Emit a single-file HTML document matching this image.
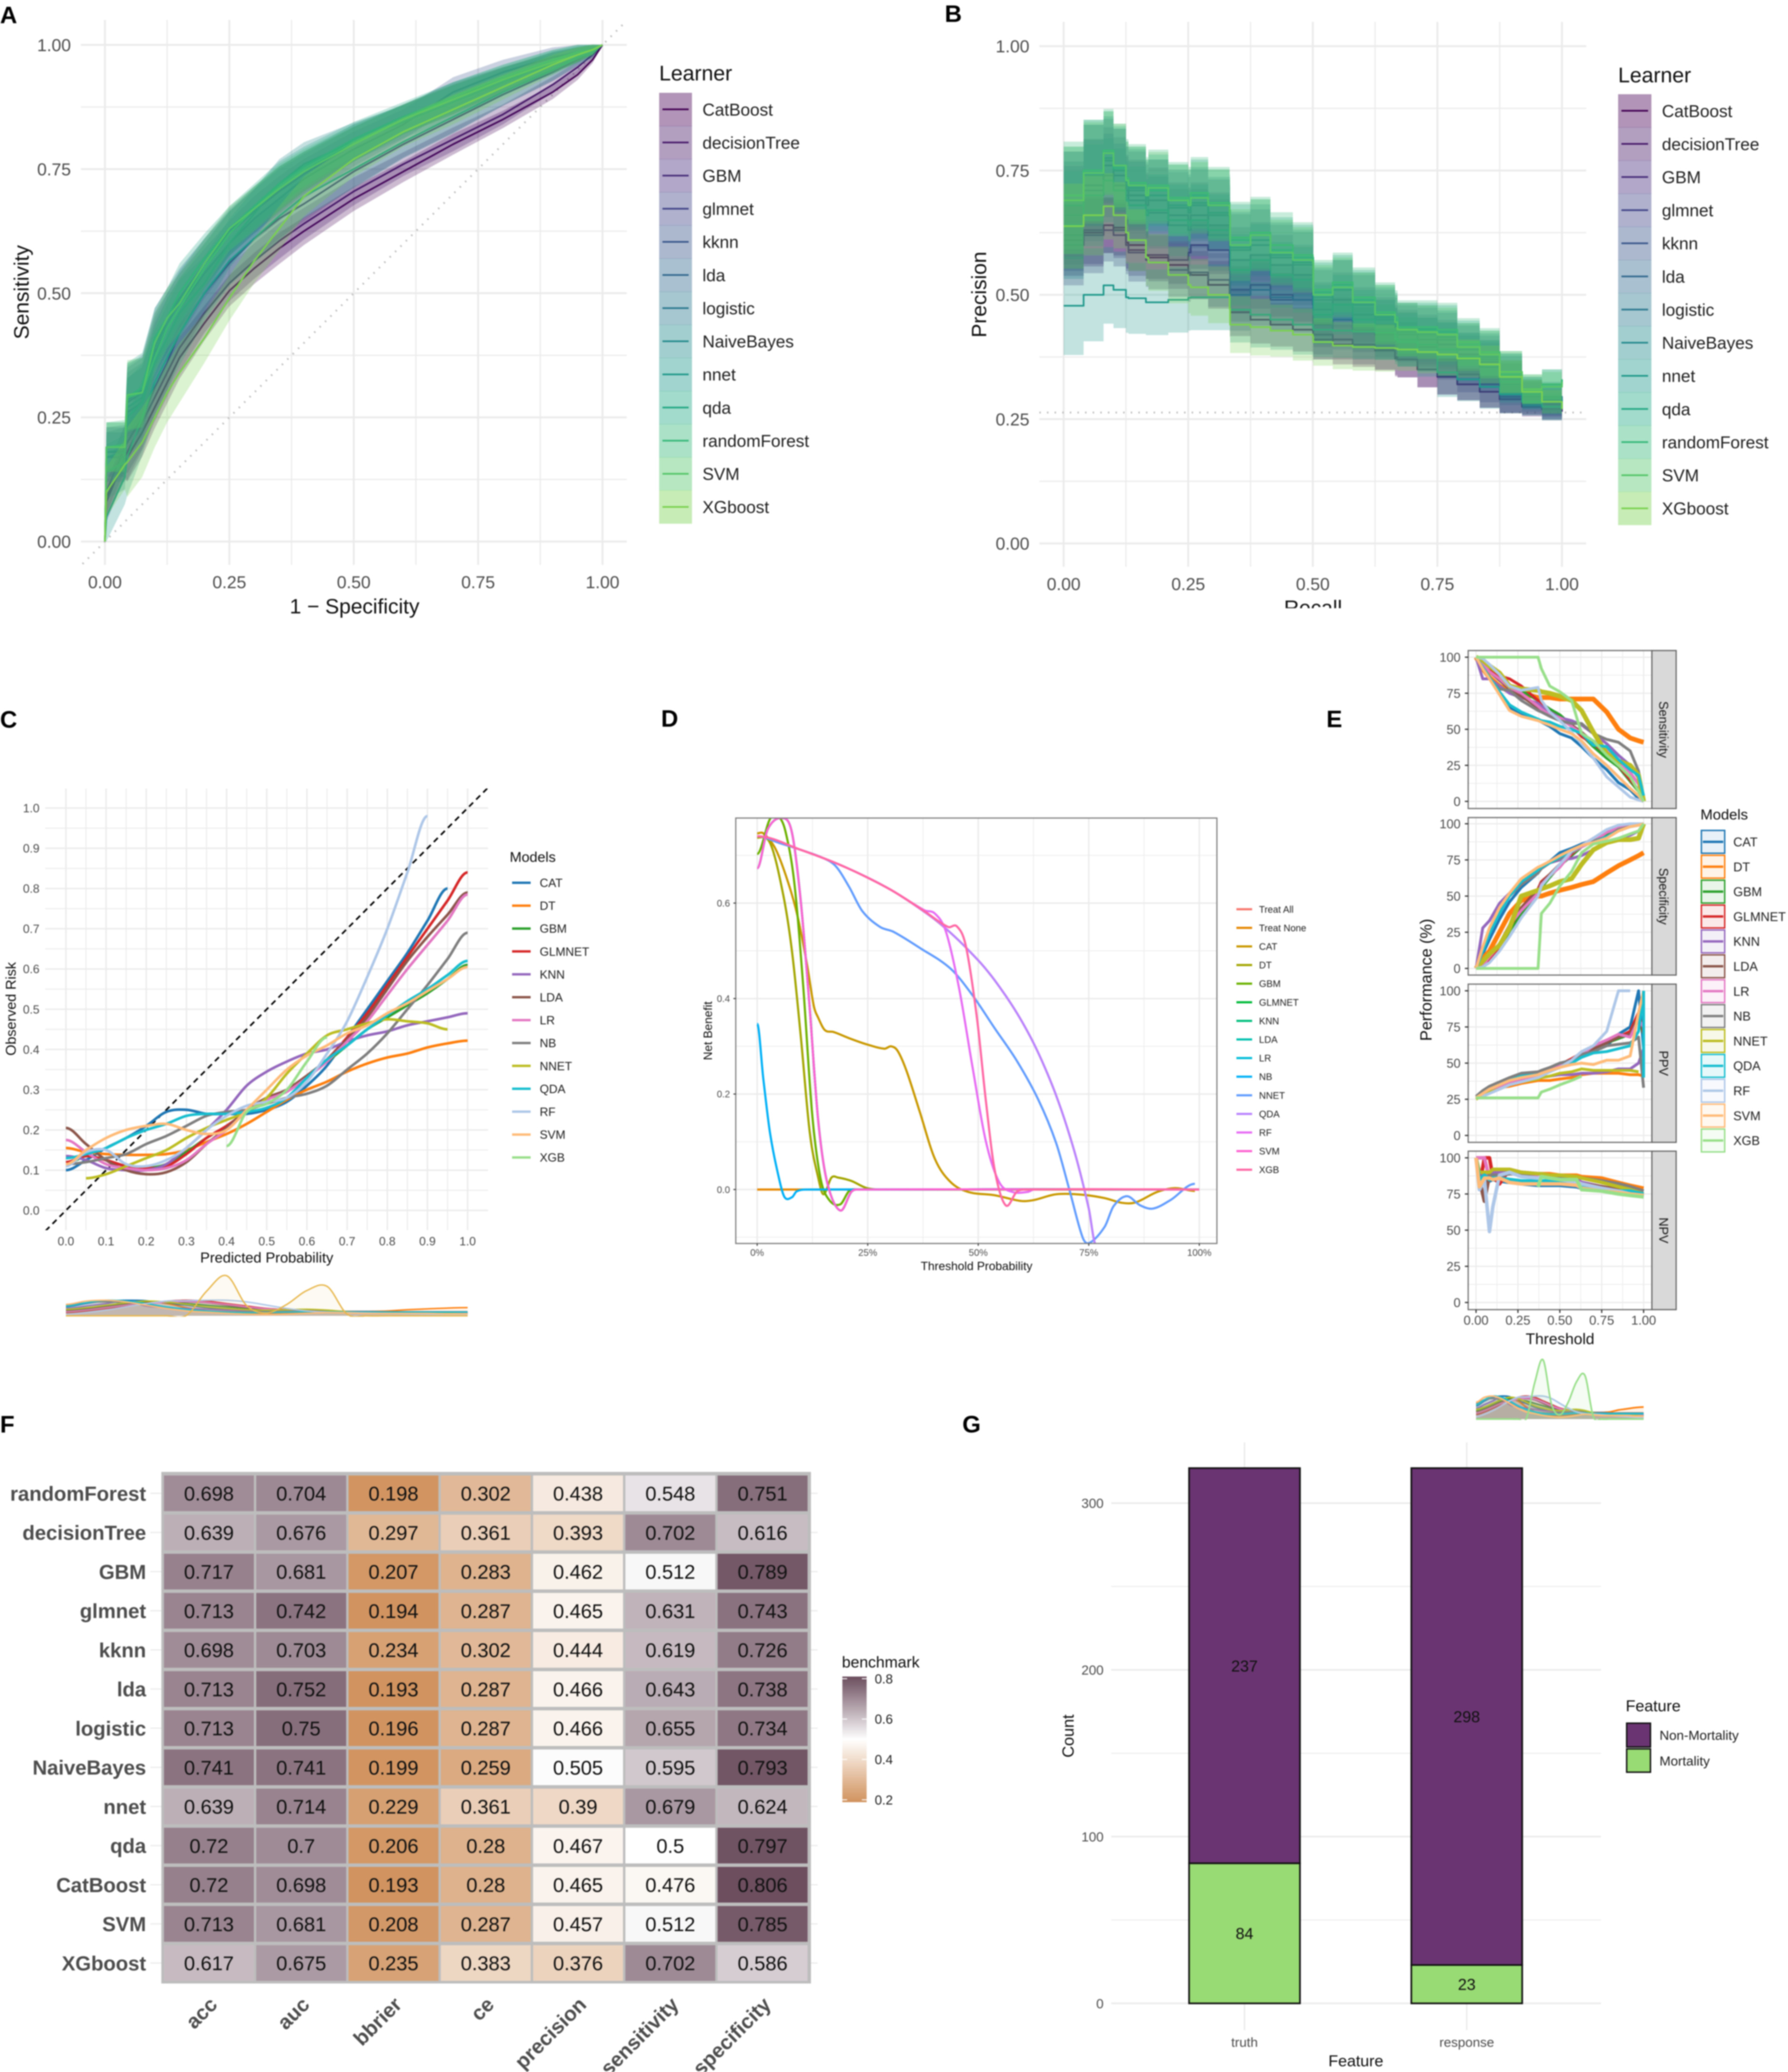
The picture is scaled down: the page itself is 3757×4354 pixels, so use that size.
<!DOCTYPE html>
<html lang="en">
<head>
<meta charset="utf-8">
<title>Model performance figure</title>
<style>
html,body{margin:0;padding:0;background:#fff;}
body{width:3757px;height:4354px;overflow:hidden;}
svg{display:block;font-family:"Liberation Sans",sans-serif;filter:blur(1.2px);}
</style>
</head>
<body>
<svg id="figure" xmlns="http://www.w3.org/2000/svg" width="3757" height="4354" viewBox="0 0 3757 4354">
<rect x="0" y="0" width="3757" height="4354" fill="#fff"/>
</svg>
<script>
/* ---------- shared categories ---------- */
const learners=["CatBoost","decisionTree","GBM","glmnet","kknn","lda","logistic","NaiveBayes","nnet","qda","randomForest","SVM","XGboost"];
const learnerColors=["#440154","#471a6a","#472d7b","#414487","#3a568b","#31688e","#2a788e","#248a8d","#1f988b","#22a884","#35b779","#54c568","#7ad151"];
const modelNames=["CAT","DT","GBM","GLMNET","KNN","LDA","LR","NB","NNET","QDA","RF","SVM","XGB"];
const modelColors=["#1f77b4","#ff7f0e","#2ca02c","#d62728","#9467bd","#8c564b","#e377c2","#7f7f7f","#bcbd22","#17becf","#aec7e8","#ffbb78","#98df8a"];

/* ---------- panel A: ROC ---------- */
const rocFpr=[0,.003,.04,.045,.075,.1,.125,.15,.2,.25,.3,.35,.4,.5,.6,.7,.8,.9,.95,.98,1];
const rocHalfBand=[0,.05,.05,.07,.07,.06,.06,.06,.05,.045,.045,.045,.04,.035,.03,.03,.025,.02,.015,.01,0];
const rocBandScale=[.7,.8,.9,1,1,1,1,1.1,1.1,1,1,1,1];
const rocValues=[
[0,.09,.16,.17,.22,.27,.32,.37,.44,.505,.55,.59,.625,.69,.745,.80,.85,.905,.94,.97,1],
[0,.08,.17,.18,.24,.29,.34,.39,.46,.52,.565,.605,.64,.705,.76,.81,.86,.92,.955,.98,1],
[0,.10,.19,.20,.25,.31,.36,.42,.50,.56,.61,.65,.68,.745,.80,.85,.90,.945,.97,.985,1],
[0,.18,.18,.28,.30,.40,.44,.48,.55,.62,.665,.705,.74,.80,.85,.89,.93,.965,.98,.99,1],
[0,.17,.17,.26,.28,.38,.43,.47,.54,.60,.65,.69,.73,.79,.84,.905,.945,.975,.985,.99,1],
[0,.18,.185,.285,.305,.41,.45,.49,.56,.625,.67,.71,.745,.805,.85,.895,.93,.965,.98,.99,1],
[0,.17,.18,.27,.29,.39,.44,.485,.56,.62,.665,.71,.745,.80,.85,.89,.93,.96,.98,.99,1],
[0,.14,.16,.25,.28,.36,.41,.46,.52,.60,.66,.72,.76,.805,.845,.885,.925,.965,.98,.99,1],
[0,.05,.13,.17,.25,.32,.37,.42,.50,.565,.61,.655,.695,.75,.805,.855,.905,.95,.975,.985,1],
[0,.19,.19,.29,.31,.41,.45,.50,.57,.63,.675,.72,.755,.81,.855,.895,.935,.97,.985,.99,1],
[0,.19,.195,.29,.30,.37,.43,.47,.55,.62,.67,.715,.75,.805,.85,.895,.935,.97,.985,.99,1],
[0,.19,.19,.295,.30,.40,.45,.48,.56,.63,.67,.71,.745,.80,.85,.89,.93,.965,.98,.99,1],
[0,.10,.155,.16,.20,.25,.30,.34,.41,.49,.565,.63,.695,.77,.825,.87,.915,.96,.98,.99,1]
];
const unitTicks=["0.00","0.25","0.50","0.75","1.00"];
const unitTickValues=[0,.25,.5,.75,1];
const unitMinorValues=[.125,.375,.625,.875];

/* ---------- panel B: precision-recall ---------- */
const prRecall=[0,.04,.08,.1,.125,.13,.165,.17,.21,.25,.255,.29,.333,.334,.375,.415,.46,.5,.501,.54,.58,.625,.665,.67,.71,.75,.79,.835,.875,.92,.96,1];
const prHalfBand=[.09,.085,.07,.07,.065,.065,.06,.06,.06,.06,.06,.06,.06,.06,.06,.055,.055,.055,.05,.05,.05,.05,.045,.045,.045,.045,.04,.04,.035,.025,.025,.02];
const prBandScale=[.8,.8,.9,1.1,1.2,1.2,1.2,1.2,1.1,1.2,1.2,1.2,.95];
const prValues=[
[.61,.625,.64,.635,.605,.60,.58,.575,.56,.545,.54,.52,.49,.465,.45,.44,.43,.428,.41,.40,.395,.388,.372,.37,.35,.336,.32,.305,.29,.28,.275,.27],
[.62,.63,.64,.63,.60,.59,.58,.58,.57,.585,.60,.59,.55,.51,.52,.50,.49,.48,.42,.41,.40,.39,.375,.37,.35,.335,.32,.305,.29,.275,.27,.265],
[.60,.62,.63,.62,.60,.585,.57,.565,.55,.54,.545,.53,.52,.50,.51,.49,.49,.505,.44,.45,.43,.42,.41,.405,.395,.37,.34,.32,.295,.28,.27,.27],
[.66,.72,.76,.74,.71,.70,.68,.69,.66,.65,.66,.64,.63,.57,.58,.56,.54,.55,.47,.49,.46,.44,.43,.42,.41,.40,.38,.365,.33,.30,.285,.27],
[.66,.71,.74,.72,.70,.69,.67,.665,.64,.63,.64,.62,.60,.50,.51,.495,.49,.50,.43,.45,.43,.43,.42,.41,.40,.39,.37,.355,.32,.295,.28,.27],
[.68,.74,.77,.75,.72,.71,.69,.70,.675,.665,.68,.66,.645,.59,.60,.575,.56,.56,.49,.51,.48,.45,.44,.425,.42,.41,.39,.37,.335,.30,.29,.28],
[.68,.74,.775,.75,.72,.715,.695,.70,.68,.67,.685,.665,.65,.595,.61,.58,.565,.565,.495,.51,.485,.455,.445,.43,.425,.415,.395,.375,.34,.305,.295,.28],
[.64,.70,.73,.71,.69,.68,.66,.67,.65,.64,.65,.63,.62,.55,.57,.54,.53,.54,.46,.48,.45,.43,.42,.41,.40,.39,.375,.36,.325,.30,.29,.275],
[.478,.50,.519,.51,.495,.493,.485,.485,.49,.494,.495,.495,.493,.47,.46,.45,.44,.436,.43,.428,.426,.424,.41,.405,.385,.344,.33,.315,.30,.285,.275,.27],
[.69,.75,.785,.755,.73,.72,.70,.71,.69,.68,.70,.68,.665,.61,.62,.59,.575,.57,.505,.52,.49,.46,.45,.43,.43,.425,.40,.38,.34,.305,.32,.33],
[.70,.75,.79,.76,.735,.725,.705,.72,.695,.685,.705,.685,.67,.615,.625,.60,.58,.575,.51,.525,.495,.465,.455,.435,.435,.43,.405,.385,.345,.31,.32,.33],
[.69,.745,.785,.76,.73,.72,.70,.715,.69,.68,.695,.68,.66,.60,.62,.585,.57,.565,.50,.515,.485,.46,.445,.43,.425,.42,.395,.38,.345,.31,.315,.325],
[.638,.66,.678,.66,.625,.61,.575,.565,.54,.52,.515,.50,.472,.44,.435,.428,.42,.416,.405,.398,.395,.393,.392,.39,.385,.38,.372,.36,.335,.305,.285,.27]
];
const prevalence=[.2633];

/* ---------- panel C: calibration ---------- */
const calPredicted=[0,.05,.1,.15,.2,.25,.3,.35,.4,.45,.5,.55,.6,.65,.7,.75,.8,.85,.9,.95,1];
const calObserved=[
[.10,.125,.155,.18,.21,.245,.25,.24,.24,.24,.25,.27,.31,.36,.43,.50,.57,.64,.72,.80,null],
[.155,.145,.14,.138,.138,.14,.15,.17,.19,.215,.245,.275,.30,.32,.345,.365,.38,.39,.405,.415,.422],
[.115,.135,.125,.11,.105,.115,.145,.18,.21,.245,.275,.30,.335,.37,.41,.45,.48,.51,.54,.575,.61],
[.12,.135,.125,.11,.105,.11,.14,.18,.21,.245,.275,.30,.335,.375,.43,.49,.56,.63,.70,.77,.84],
[.135,.125,.105,.10,.10,.115,.155,.20,.25,.31,.345,.37,.39,.40,.42,.435,.445,.46,.47,.48,.49],
[.205,.165,.125,.10,.09,.095,.12,.165,.205,.25,.28,.30,.335,.375,.425,.48,.55,.62,.68,.735,.79],
[.175,.145,.115,.105,.10,.105,.125,.165,.20,.245,.275,.295,.33,.37,.42,.47,.535,.60,.66,.72,.785],
[.115,.12,.13,.14,.165,.185,.21,.235,.245,.25,.265,.28,.29,.31,.35,.39,.44,.50,.56,.625,.69],
[null,.08,.09,.11,.13,.15,.18,.205,.225,.245,.28,.34,.39,.435,.45,.465,.475,.47,.465,.45,null],
[.13,.14,.155,.18,.20,.215,.235,.24,.24,.245,.255,.28,.33,.375,.41,.45,.485,.52,.55,.585,.62],
[.11,.145,.15,.115,.11,.125,.155,.20,.235,.26,.27,.28,.32,.39,.47,.58,.70,.84,.98,null,null],
[.115,.15,.18,.20,.21,.215,.20,.19,.20,.25,.30,.35,.385,.41,.44,.46,.49,.515,.545,.575,.605],
[null,null,null,null,null,null,null,null,.16,.245,.265,.30,.37,.43,null,null,null,null,null,null,null]
];
const tenthTicks=["0.0","0.1","0.2","0.3","0.4","0.5","0.6","0.7","0.8","0.9","1.0"];
const tenthValues=[0,.1,.2,.3,.4,.5,.6,.7,.8,.9,1];

/* ---------- shared prediction-density rugs (panels C and E) ---------- */
const densityGrid=[0,.05,.1,.15,.2,.25,.3,.35,.4,.45,.5,.55,.6,.65,.7,.75,.8,.85,.9,.95,1];
const densityValues=[
[22,30,36,38,37,30,26,20,16,14,12,11,10,10,9,9,9,8,8,7,6],
[8,12,20,28,36,30,20,12,8,6,6,7,8,9,10,11,12,15,17,19,20],
[14,18,24,30,34,32,30,26,22,18,14,12,11,10,9,9,8,8,8,7,6],
[8,12,18,24,30,36,38,36,30,24,18,15,13,11,10,9,9,9,8,8,8],
[18,24,30,36,24,20,18,16,14,13,12,12,11,10,10,9,9,8,8,7,6],
[12,16,22,28,32,34,34,32,26,20,16,13,12,11,10,9,9,9,8,8,7],
[10,14,20,26,30,33,35,33,28,22,17,14,12,11,10,9,9,8,8,7,7],
[26,32,34,32,28,22,16,12,10,10,11,12,13,12,11,11,10,10,10,10,10],
[16,20,26,32,36,34,28,22,18,15,14,15,16,14,10,8,7,7,6,6,5],
[24,32,38,36,30,22,16,12,9,8,8,9,10,10,9,9,9,9,9,9,9],
[4,8,14,22,30,36,37,38,38,34,26,18,12,9,8,7,6,5,4,3,2],
[28,36,38,34,26,18,12,9,6,4,3,4,6,8,7,6,6,6,6,5,5],
[0,0,0,0,0,0,1,60,98,25,7,28,62,72,4,0,0,0,0,0,0]
];

/* ---------- panel D: decision curve ---------- */
const dcaNames=["Treat All","Treat None","CAT","DT","GBM","GLMNET","KNN","LDA","LR","NB","NNET","QDA","RF","SVM","XGB"];
const dcaColors=["#F8766D","#E58700","#C99800","#A3A500","#6BB100","#00BA38","#00BF7D","#00C0AF","#00BCD8","#00B0F6","#619CFF","#B983FF","#E76BF3","#FD61D1","#FF67A4"];
const dcaThresholds=[
[0,.05,.1,.15,.2,.25,.3,.35,.4,.45,.5,.525,.55,.575,.6,.625,.65,.675,.7,.725,.75,.766],
[0,.25,.5,.75,1],
[0,.014,.04,.064,.09,.113,.128,.138,.153,.173,.208,.248,.288,.303,.318,.338,.368,.402,.437,.477,.537,.597,.626,.676,.736,.786,.826,.856,.905,.945,.99],
[0,.03,.059,.079,.099,.119,.138,.15,.168,.183,.213,.248,.288,1],
[0,.029,.049,.064,.084,.104,.124,.143,.163,.188,.208,.228,1],
[0,.024,.059,.079,.099,.119,.138,.158,.188,.213,.228,1],
[0,.024,.059,.079,.099,.119,.138,.158,.188,.213,.228,1],
[0,.024,.059,.079,.099,.119,.138,.158,.188,.213,.228,1],
[0,.024,.059,.079,.099,.119,.138,.158,.188,.213,.228,1],
[0,.014,.029,.049,.062,.079,.089,.113,1],
[0,.05,.1,.15,.178,.208,.238,.278,.308,.368,.437,.487,.537,.587,.636,.676,.706,.736,.751,.786,.806,.836,.866,.895,.935,.99],
[0,.1,.2,.3,.4,.45,.5,.525,.55,.575,.6,.625,.65,.675,.7,.725,.75,.766],
[0,.1,.2,.3,.378,.402,.427,.457,.487,.517,.547,.577,.612,.626,1],
[0,.024,.059,.079,.099,.119,.138,.158,.188,.213,.228,1],
[0,.1,.2,.3,.378,.432,.452,.472,.497,.517,.537,.562,.587,.607,1]
];
const dcaBenefits=[
[.74,.726,.711,.694,.675,.653,.629,.60,.567,.527,.48,.453,.422,.388,.35,.307,.257,.20,.133,.055,-.04,-.115],
[0,0,0,0,0],
[.746,.746,.716,.66,.578,.47,.385,.36,.334,.33,.317,.304,.295,.30,.29,.248,.162,.064,.016,-.005,-.012,-.024,-.022,-.01,-.011,-.018,-.028,-.027,-.005,.003,-.003],
[.737,.724,.617,.497,.317,.119,.025,-.01,.025,.025,.018,.003,0,0],
[.703,.776,.78,.75,.643,.428,.162,.025,-.022,-.031,-.003,0,0],
[.673,.755,.778,.746,.60,.377,.145,.016,-.044,-.005,0,0],
[.673,.755,.778,.746,.60,.377,.145,.016,-.044,-.005,0,0],
[.673,.755,.778,.746,.60,.377,.145,.016,-.044,-.005,0,0],
[.673,.755,.778,.746,.60,.377,.145,.016,-.044,-.005,0,0],
[.347,.231,.119,.025,-.016,-.016,-.004,0,0],
[.74,.726,.711,.694,.677,.634,.583,.55,.54,.506,.463,.407,.338,.27,.188,.098,0,-.1,-.112,-.078,-.035,-.014,-.033,-.04,-.022,.012],
[.74,.711,.675,.629,.567,.527,.48,.453,.422,.388,.35,.307,.257,.20,.133,.055,-.04,-.115],
[.74,.711,.675,.629,.585,.578,.54,.42,.257,.102,.016,-.005,-.005,0,0],
[.673,.755,.778,.746,.60,.377,.145,.016,-.044,-.005,0,0],
[.74,.711,.675,.629,.583,.55,.551,.51,.36,.188,.042,-.033,-.005,0,0]
];
const dcaYTicks=["0.0","0.2","0.4","0.6"];
const dcaYValues=[0,.2,.4,.6];
const dcaXTicks=["0%","25%","50%","75%","100%"];

/* ---------- panel E: threshold performance ---------- */
const perfThreshold=[0,.04,.08,.14,.2,.27,.37,.39,.44,.5,.57,.63,.7,.78,.85,.92,.97,1];
const npvThreshold=[0,.02,.05,.08,.1,.14,.2,.27,.37,.39,.44,.5,.6,.63,.75,.85,.92,1];
const perfFacets=["Sensitivity","Specificity","PPV","NPV"];
const perfTicks=["0","25","50","75","100"];
const perfTickValues=[0,25,50,75,100];
const sensitivityValues=[
[100,93,87,75,65,60,57,55,52,47,44,38,30,22,13,8,2,0],
[100,92,86,80,76,75,72,72,72,71,71,71,71,62,50,44,42,41],
[100,96,91,86,80,77,70,68,64,60,53,46,38,30,24,14,7,0],
[100,97,92,87,85,80,70,67,62,58,52,45,40,33,25,15,8,0],
[100,85,85,80,75,72,68,66,62,58,56,53,47,40,32,25,16,4],
[100,96,90,84,78,73,65,63,60,57,53,48,41,35,28,20,12,2],
[100,96,90,85,79,75,66,64,60,58,52,47,42,36,28,20,12,1],
[100,92,85,78,77,70,63,62,59,56,54,54,47,43,41,35,21,2],
[100,98,94,89,80,78,77,76,75,73,70,63,48,33,28,25,18,0],
[100,93,86,76,67,62,57,56,55,52,50,47,39,38,29,22,18,4],
[100,99,95,88,80,77,79,70,62,56,48,40,30,17,10,3,1,0],
[100,92,85,74,63,59,56,55,53,50,47,42,33,25,17,9,4,0],
[100,100,100,100,100,100,100,92,80,76,70,47,42,32,25,17,7,0]
];
const specificityValues=[
[0,10,20,34,46,56,66,70,74,80,83,86,89,92,96,98,99,100],
[0,7,12,25,38,47,50,50,52,54,56,58,60,66,71,75,78,80],
[0,2,6,14,26,38,50,56,63,71,78,84,88,93,97,99,100,100],
[0,1,6,15,28,42,55,60,65,72,79,85,90,95,98,99,100,100],
[0,28,33,45,52,58,66,70,73,75,76,78,82,87,90,92,95,100],
[0,3,9,17,30,42,54,59,65,72,80,84,88,94,97,99,100,100],
[0,2,8,16,30,40,52,58,64,70,80,84,88,94,97,99,100,100],
[0,15,25,40,50,58,66,69,73,76,80,85,88,91,96,98,99,100],
[0,5,10,16,28,50,54,55,57,60,62,72,82,87,89,89,90,100],
[0,12,24,38,50,60,68,70,73,77,81,85,87,91,95,98,99,100],
[0,1,4,12,22,35,50,57,64,72,81,85,90,96,99,100,100,100],
[0,15,28,42,52,62,70,71,74,78,82,85,87,90,95,98,99,100],
[0,0,0,0,0,0,0,38,45,57,67,80,86,88,90,93,95,100]
];
const ppvValues=[
[26,29,32,35,38,41,43,44,45,48,52,54,58,62,70,75,100,60],
[26,29,31,33,34,36,38,38,38,39,40,42,43,43,43,42,42,41],
[26,28,30,33,36,38,41,43,44,48,53,55,59,64,67,70,80,70],
[26,28,30,33,36,38,41,43,45,49,53,57,60,66,68,72,85,70],
[27,30,32,34,36,38,40,40,41,42,42,43,43,44,46,46,50,60],
[26,29,31,34,37,39,42,43,45,48,52,55,60,64,68,70,82,72],
[26,28,31,33,36,39,41,42,45,48,52,56,62,66,70,68,80,75],
[27,31,34,37,40,43,44,45,47,50,52,56,58,62,63,64,68,33],
[25,28,30,32,35,37,39,40,41,43,44,46,45,45,45,45,44,null],
[26,29,32,35,38,41,42,43,44,47,50,54,57,58,60,62,72,100],
[26,27,29,32,35,37,40,41,44,47,52,58,62,72,100,100,null,null],
[26,29,32,35,38,40,42,43,45,47,49,50,49,52,52,55,85,100],
[26,26,26,26,26,26,26,30,32,35,38,41,null,null,null,null,null,null]
];
const ppvEndSpike=[40,100];
const npvValues=[
[100,82,85,84,85,84,83,82,81,81,81,81,80,79,77,76,75,73],
[100,88,89,88,88,90,90,90,89,89,89,88,88,87,86,83,81,79],
[100,90,88,88,88,88,90,89,88,88,87,86,84,82,80,78,76,74],
[100,80,100,100,87,82,92,90,89,89,88,87,84,82,80,78,76,74],
[100,90,88,88,90,90,91,90,89,89,88,87,85,83,80,78,76,74],
[100,85,70,88,88,88,90,89,88,88,87,86,84,82,80,78,76,75],
[100,100,100,85,88,88,90,90,88,88,87,86,84,82,79,77,76,75],
[100,85,86,88,88,88,89,89,89,89,88,87,87,86,84,82,80,77],
[100,90,90,90,92,92,92,90,89,89,88,88,87,86,83,80,78,75],
[100,85,88,85,86,86,85,84,84,84,84,84,84,80,78,77,77,75],
[100,78,85,49,66,88,90,87,86,87,86,85,83,82,79,77,75,73],
[100,80,86,86,85,86,83,82,82,82,82,82,81,79,77,76,75,74],
[null,null,null,null,null,null,null,null,80,87,86,85,85,78,77,75,74,73]
];

/* ---------- panel F: benchmark heatmap ---------- */
const heatRows=["randomForest","decisionTree","GBM","glmnet","kknn","lda","logistic","NaiveBayes","nnet","qda","CatBoost","SVM","XGboost"];
const heatCols=["acc","auc","bbrier","ce","precision","sensitivity","specificity"];
const heatValues=[
[.698,.704,.198,.302,.438,.548,.751],
[.639,.676,.297,.361,.393,.702,.616],
[.717,.681,.207,.283,.462,.512,.789],
[.713,.742,.194,.287,.465,.631,.743],
[.698,.703,.234,.302,.444,.619,.726],
[.713,.752,.193,.287,.466,.643,.738],
[.713,.75,.196,.287,.466,.655,.734],
[.741,.741,.199,.259,.505,.595,.793],
[.639,.714,.229,.361,.39,.679,.624],
[.72,.7,.206,.28,.467,.5,.797],
[.72,.698,.193,.28,.465,.476,.806],
[.713,.681,.208,.287,.457,.512,.785],
[.617,.675,.235,.383,.376,.702,.586]
];
const heatLegendTicks=[.2,.4,.6,.8];

/* ---------- panel G: stacked counts ---------- */
const countCategories=["truth","response"];
const nonMortalityCounts=[237,298];
const mortalityCounts=[84,23];
const countTicks=[0,100,200,300];
const countMinorTicks=[50,150,250];

/* ---------- helpers ---------- */
const NS="http://www.w3.org/2000/svg";
const root=document.getElementById("figure");
const GRID="#ebebeb",TICK="#4d4d4d";
function mk(tagName,attrs,parent){
  const el=document.createElementNS(NS,tagName);
  for(const k in attrs)el.setAttribute(k,attrs[k]);
  (parent||root).appendChild(el);
  return el;
}
function named(el,name,interactable){
  
  
  return el;
}
function group(name){return named(mk("g",{}),name);}
function txt(str,x,y,size,name,o){
  o=o||{};
  const a={x:x,y:y+size*.36,"font-size":size,fill:o.fill||"#111","text-anchor":o.anchor||"start"};
  if(o.weight)a["font-weight"]=o.weight;
  if(o.rot!==undefined)a.transform="rotate("+o.rot+" "+x+" "+y+")";
  const t=named(mk("text",a,o.parent),name);
  t.textContent=str;
  return t;
}
function line(x1,y1,x2,y2,stroke,w,name,parent,extra){
  const a=Object.assign({x1:x1,y1:y1,x2:x2,y2:y2,stroke:stroke,"stroke-width":w},extra||{});
  return named(mk("line",a,parent),name);
}
function scale(d0,d1,r0,r1){return v=>r0+(v-d0)/(d1-d0)*(r1-r0);}
function runs(xs,ys,sx,sy){
  const out=[];let cur=[];
  xs.forEach((x,i)=>{
    if(ys[i]===null||ys[i]===undefined){if(cur.length)out.push(cur);cur=[];}
    else cur.push([sx(x),sy(ys[i])]);
  });
  if(cur.length)out.push(cur);
  return out;
}
function stairs(pts){
  const out=[pts[0]];
  for(let i=1;i<pts.length;i++){
    out.push([pts[i][0],pts[i-1][1]]);
    out.push(pts[i]);
  }
  return out;
}
function linearPath(rs){return rs.map(r=>"M"+r.map(p=>p[0].toFixed(1)+" "+p[1].toFixed(1)).join("L")).join("");}
function smoothPath(rs){
  return rs.map(r=>{
    let d="M"+r[0][0].toFixed(1)+" "+r[0][1].toFixed(1);
    for(let i=0;i<r.length-1;i++){
      const p0=r[i-1]||r[i],p1=r[i],p2=r[i+1],p3=r[i+2]||p2;
      const dx=p2[0]-p1[0];
      const t1=p0===p1?0:(p2[1]-p0[1])/(p2[0]-p0[0]);
      const t2=p3===p2?0:(p3[1]-p1[1])/(p3[0]-p1[0]);
      d+="C"+(p1[0]+dx/3).toFixed(1)+" "+(p1[1]+t1*dx/3).toFixed(1)+" "+
           (p2[0]-dx/3).toFixed(1)+" "+(p2[1]-t2*dx/3).toFixed(1)+" "+p2[0].toFixed(1)+" "+p2[1].toFixed(1);
    }
    return d;
  }).join("");
}
function gridLines(g,box,sx,sy,xMaj,xMin,yMaj,yMin,wMaj,wMin,prefix){
  xMin.forEach(v=>line(sx(v),box.t,sx(v),box.b,GRID,wMin,prefix+"-x-minor-gridline",g));
  yMin.forEach(v=>line(box.l,sy(v),box.r,sy(v),GRID,wMin,prefix+"-y-minor-gridline",g));
  xMaj.forEach(v=>line(sx(v),box.t,sx(v),box.b,GRID,wMaj,prefix+"-x-major-gridline",g));
  yMaj.forEach(v=>line(box.l,sy(v),box.r,sy(v),GRID,wMaj,prefix+"-y-major-gridline",g));
}
function panelLetter(ch,x,y){
  const t=named(mk("text",{x:x,y:y,"font-size":50,"font-weight":"bold",fill:"#000"}),"panel-label-"+ch.toLowerCase());
  t.textContent=ch;
}

/* ---------- ribbon panels A and B ---------- */
function ribbonPanel(cfg){
  const g=group(cfg.id+"-plot");
  const sx=scale(0,1,cfg.x0,cfg.x1),sy=scale(0,1,cfg.y0,cfg.y1);
  gridLines(g,cfg.box,sx,sy,unitTickValues,unitMinorValues,unitTickValues,unitMinorValues,4,2.5,cfg.id);
  cfg.reference(g,sx,sy);
  const marks=group(cfg.id+"-series");
  const shape=cfg.stepped?stairs:(p=>p);
  learners.forEach((name,i)=>{
    const ys=cfg.values[i];
    const up=shape(cfg.xs.map((x,j)=>[sx(x),sy(ys[j]+cfg.band[j]*cfg.bandScale[i])]));
    const lo=shape(cfg.xs.map((x,j)=>[sx(x),sy(Math.max(0,ys[j]-cfg.band[j]*cfg.bandScale[i]))])).reverse();
    const rib=mk("path",{d:linearPath([up.concat(lo)])+"Z",fill:learnerColors[i],"fill-opacity":.27,stroke:"none"},marks);
    
    
    const ln=mk("path",{d:linearPath(runs(cfg.xs,ys,sx,sy).map(shape)),fill:"none",stroke:learnerColors[i],"stroke-width":3.5,"stroke-linejoin":"round"},marks);
    
    
  });
  const axes=group(cfg.id+"-axes");
  unitTickValues.forEach((v,i)=>{
    txt(unitTicks[i],cfg.yTickX,sy(v),36.5,cfg.id+"-y-tick-label",{anchor:"end",fill:TICK,parent:axes});
    txt(unitTicks[i],sx(v),cfg.xTickY,36.5,cfg.id+"-x-tick-label",{anchor:"middle",fill:TICK,parent:axes});
  });
  txt(cfg.xTitle,cfg.xTitleX,cfg.xTitleY,44,cfg.id+"-x-axis-title",{anchor:"middle",parent:axes});
  txt(cfg.yTitle,cfg.yTitleX,cfg.yTitleY,44,cfg.id+"-y-axis-title",{anchor:"middle",rot:-90,parent:axes});
  const lg=group(cfg.id+"-legend");
  txt("Learner",cfg.lgX,cfg.lgTitleY,44.5,cfg.id+"-legend-title",{parent:lg});
  const kh=(cfg.lgB-cfg.lgT)/learners.length;
  learners.forEach((name,i)=>{
    const y=cfg.lgT+i*kh;
    const k=mk("rect",{x:cfg.lgX,y:y,width:cfg.lgW,height:kh+.5,fill:learnerColors[i],"fill-opacity":.42},lg);
    
    
    line(cfg.lgX+7,y+kh/2,cfg.lgX+cfg.lgW-7,y+kh/2,learnerColors[i],3.5,cfg.id+"-legend-line-"+name,lg);
    txt(name,cfg.lgX+cfg.lgW+22,y+kh/2,36,cfg.id+"-legend-label-"+name,{fill:"#222",parent:lg});
  });
}
panelLetter("A",0,49);
ribbonPanel({id:"roc",x0:220.5,x1:1266,y0:1138,y1:94.3,box:{l:170,r:1317,t:42,b:1187},xs:rocFpr,values:rocValues,band:rocHalfBand,bandScale:rocBandScale,
  reference:(g,sx,sy)=>{line(sx(-.045),sy(-.045),sx(1.045),sy(1.045),"#bdbdbd",4,"roc-chance-diagonal",g,{"stroke-dasharray":"3 13"});},
  yTickX:149,xTickY:1223,xTitle:"1 − Specificity",xTitleX:745,xTitleY:1273,yTitle:"Sensitivity",yTitleX:44,yTitleY:614,
  lgX:1385,lgW:69,lgT:195,lgB:1100,lgTitleY:153});
panelLetter("B",1985,46);
ribbonPanel({id:"pr",stepped:true,x0:2235,x1:3282,y0:1142,y1:97,box:{l:2184,r:3333,t:46,b:1191},xs:prRecall,values:prValues,band:prHalfBand,bandScale:prBandScale,
  reference:(g,sx,sy)=>{line(2184,sy(prevalence[0]),3333,sy(prevalence[0]),"#bdbdbd",4,"pr-baseline",g,{"stroke-dasharray":"3 13"});},
  yTickX:2163,xTickY:1227,xTitle:"Recall",xTitleX:2759,xTitleY:1276,yTitle:"Precision",yTitleX:2056,yTitleY:619,
  lgX:3400,lgW:70,lgT:198,lgB:1103,lgTitleY:157});
named(mk("rect",{x:2650,y:1278,width:220,height:40,fill:"#fff"}),"recall-title-crop");

/* ---------- density rug ---------- */
function densityRug(id,sx,baseY,heightPerUnit,colors,strokeW,fillAlpha){
  const g=group(id);
  const cp=mk("clipPath",{id:id+"-clip"},g);
  named(mk("rect",{x:sx(0)-2,y:baseY-140,width:sx(1)-sx(0)+4,height:142},cp),id+"-clip-area");
  g.setAttribute("clip-path","url(#"+id+"-clip)");
  const sy=v=>baseY-v*heightPerUnit;
  modelNames.forEach((name,i)=>{
    const rs=runs(densityGrid,densityValues[i],sx,sy);
    const body=smoothPath(rs);
    const fill=mk("path",{d:body+"L"+sx(1)+" "+baseY+"L"+sx(0)+" "+baseY+"Z",fill:colors[i],"fill-opacity":fillAlpha,stroke:"none"},g);
    
    
    const ln=mk("path",{d:body,fill:"none",stroke:colors[i],"stroke-width":strokeW},g);
    
    
  });
}

/* ---------- panel C ---------- */
panelLetter("C",0,1529);
(function(){
  const g=group("calibration-plot");
  const sx=scale(0,1,138.5,982.6),sy=scale(0,1,2543.5,1698);
  const box={l:95,r:1025.5,t:1657,b:2585};
  const mids=tenthValues.slice(0,10).map(v=>v+.05);
  gridLines(g,box,sx,sy,tenthValues,mids,tenthValues,mids,3,2,"calibration");
  const cl=mk("clipPath",{id:"cal-clip"},g);
  named(mk("rect",{x:box.l,y:box.t,width:box.r-box.l,height:box.b-box.t},cl),"calibration-clip-area");
  line(sx(-.051),sy(-.051),sx(1.05),sy(1.05),"#000",3.5,"calibration-ideal-diagonal",g,{"stroke-dasharray":"12 9","clip-path":"url(#cal-clip)"});
  modelNames.forEach((name,i)=>{
    const ln=mk("path",{d:smoothPath(runs(calPredicted,calObserved[i],sx,sy)),fill:"none",stroke:modelColors[i],"stroke-width":5.5,"stroke-linecap":"butt"},g);
    
    
  });
  tenthValues.forEach((v,i)=>{
    txt(tenthTicks[i],83,sy(v),25,"calibration-y-tick-label",{anchor:"end",fill:TICK,parent:g});
    txt(tenthTicks[i],sx(v),2608,25,"calibration-x-tick-label",{anchor:"middle",fill:TICK,parent:g});
  });
  txt("Predicted Probability",560.5,2642,30.5,"calibration-x-axis-title",{anchor:"middle",parent:g});
  txt("Observed Risk",22,2120,30,"calibration-y-axis-title",{anchor:"middle",rot:-90,parent:g});
  const lg=group("calibration-legend");
  txt("Models",1071,1800,30,"calibration-legend-title",{parent:lg});
  modelNames.forEach((name,i)=>{
    const y=1855+i*48.1;
    line(1076,y,1115,y,modelColors[i],5,"calibration-legend-line-"+name,lg);
    txt(name,1134,y,25,"calibration-legend-label-"+name,{fill:"#222",parent:lg});
  });
  const rugColors=modelColors.slice(0,12).concat(["#e8b84f"]);
  densityRug("calibration-density",sx,2765,.86,rugColors,3,.07);
})();

/* ---------- panel D ---------- */
panelLetter("D",1389,1527);
(function(){
  const g=group("decision-curve-plot");
  const sx=scale(0,1,1591,2520),sy=scale(0,.6,2499.6,1897.7);
  const box={l:1546,r:2557,t:1719,b:2613};
  named(mk("rect",{x:box.l,y:box.t,width:box.r-box.l,height:box.b-box.t,fill:"#fff"},g),"decision-curve-panel");
  const minorX=[.125,.375,.625,.875],majorX=[0,.25,.5,.75,1];
  gridLines(g,box,sx,sy,majorX,minorX,dcaYValues,[-.1,.1,.3,.5,.7],3,1.5,"decision-curve");
  const cl=mk("clipPath",{id:"dca-clip"},g);
  named(mk("rect",{x:box.l,y:box.t,width:box.r-box.l,height:box.b-box.t},cl),"decision-curve-clip-area");
  const curves=mk("g",{"clip-path":"url(#dca-clip)"},g);
  named(curves,"decision-curves");
  dcaNames.forEach((name,i)=>{
    const ln=mk("path",{d:smoothPath(runs(dcaThresholds[i],dcaBenefits[i],sx,sy)),fill:"none",stroke:dcaColors[i],"stroke-width":4.5,"stroke-linejoin":"round"},curves);
    
    
  });
  named(mk("rect",{x:box.l,y:box.t,width:box.r-box.l,height:box.b-box.t,fill:"none",stroke:"#7f7f7f","stroke-width":2.5},g),"decision-curve-border");
  dcaYValues.forEach((v,i)=>{
    line(box.l-5,sy(v),box.l,sy(v),"#333",2,"decision-curve-y-tick",g);
    txt(dcaYTicks[i],1534,sy(v),20,"decision-curve-y-tick-label",{anchor:"end",fill:TICK,parent:g});
  });
  majorX.forEach((v,i)=>{
    line(sx(v),box.b,sx(v),box.b+5,"#333",2,"decision-curve-x-tick",g);
    txt(dcaXTicks[i],sx(v),2632,20,"decision-curve-x-tick-label",{anchor:"middle",fill:TICK,parent:g});
  });
  txt("Threshold Probability",2052,2660,25,"decision-curve-x-axis-title",{anchor:"middle",parent:g});
  txt("Net Benefit",1487,2166,25,"decision-curve-y-axis-title",{anchor:"middle",rot:-90,parent:g});
  const lg=group("decision-curve-legend");
  dcaNames.forEach((name,i)=>{
    const y=1910.6+i*39.1;
    line(2598,y,2631,y,dcaColors[i],4.5,"decision-curve-legend-line",lg);
    txt(name,2645.5,y,20,"decision-curve-legend-label",{fill:"#222",parent:lg});
  });
})();

/* ---------- panel E ---------- */
panelLetter("E",2787,1528);
(function(){
  const sx=scale(0,1,3101.5,3453.6);
  const facets=[
    {t:1367,b:1699,y100:1381,y0:1684,xs:perfThreshold,values:sensitivityValues,w:6},
    {t:1718,b:2049,y100:1731,y0:2035,xs:perfThreshold,values:specificityValues,w:6},
    {t:2068,b:2400.5,y100:2082,y0:2386,xs:perfThreshold,values:ppvValues,w:6},
    {t:2419,b:2752,y100:2433,y0:2737,xs:npvThreshold,values:npvValues,w:7.5}
  ];
  const l=3085,r=3471,sr=3522;
  const mids=[12.5,37.5,62.5,87.5],xMid=[.125,.375,.625,.875];
  const wideModels=["DT","NNET"];
  facets.forEach((f,fi)=>{
    const fname=perfFacets[fi].toLowerCase();
    const g=group("performance-facet-"+fname);
    const sy=scale(0,100,f.y0,f.y100);
    gridLines(g,{l:l,r:r,t:f.t,b:f.b},sx,sy,unitTickValues,xMid,perfTickValues,mids,2.5,1.5,"performance-"+fname);
    f.values.forEach((ys,i)=>{
      const w=(fi<2&&wideModels.includes(modelNames[i]))?10:f.w;
      const ln=mk("path",{d:linearPath(runs(f.xs,ys,sx,sy)),fill:"none",stroke:modelColors[i],"stroke-width":w,"stroke-linejoin":"round"},g);
      
      
    });
    if(fi===2){
      line(sx(1),sy(ppvEndSpike[0]),sx(1),sy(ppvEndSpike[1]),modelColors[9],6,"ppv-end-spike",g);
    }
    named(mk("rect",{x:l,y:f.t,width:r-l,height:f.b-f.t,fill:"none",stroke:"#6f6f6f","stroke-width":2.5},g),"performance-"+fname+"-border");
    named(mk("rect",{x:r,y:f.t,width:sr-r,height:f.b-f.t,fill:"#d9d9d9",stroke:"#666","stroke-width":2.5},g),"performance-"+fname+"-strip");
    txt(perfFacets[fi],3496,(f.t+f.b)/2,26.5,"performance-"+fname+"-strip-label",{anchor:"middle",rot:90,fill:"#1a1a1a",parent:g});
    perfTickValues.forEach((v,i)=>{
      line(l-7,sy(v),l,sy(v),"#333",2.5,"performance-y-tick",g);
      txt(perfTicks[i],3069,sy(v),26.5,"performance-y-tick-label",{anchor:"end",fill:TICK,parent:g});
    });
    if(fi===3){
      unitTickValues.forEach((v,i)=>{
        line(sx(v),f.b,sx(v),f.b+7,"#333",2.5,"performance-x-tick",g);
        txt(unitTicks[i],sx(v),2774,27,"performance-x-tick-label",{anchor:"middle",fill:TICK,parent:g});
      });
    }
  });
  txt("Threshold",3278,2813,32.5,"performance-x-axis-title",{anchor:"middle"});
  txt("Performance (%)",2996,2059,34,"performance-y-axis-title",{anchor:"middle",rot:-90});
  const lg=group("performance-legend");
  txt("Models",3573,1711,31,"performance-legend-title",{parent:lg});
  modelNames.forEach((name,i)=>{
    const y=1769+i*52.3;
    const k=mk("rect",{x:3575,y:y-24,width:49,height:48,fill:modelColors[i],"fill-opacity":.1,stroke:modelColors[i],"stroke-width":3},lg);
    
    
    line(3578,y,3621,y,modelColors[i],5,"performance-legend-line-"+name,lg);
    txt(name,3642,y,26.5,"performance-legend-label-"+name,{fill:"#222",parent:lg});
  });
  densityRug("performance-density",sx,2982,1.27,modelColors,3.5,.1);
})();

/* ---------- panel F ---------- */
panelLetter("F",0,3010);
function heatColor(v){
  const low=[209,147,95],mid=[255,255,255],high=[108,78,94];
  let t,a,b;
  if(v<.5){t=(.5-v)/(.5-.193);a=mid;b=low;}else{t=(v-.5)/(.806-.5);a=mid;b=high;}
  t=Math.max(0,Math.min(1,t));
  return "rgb("+a.map((c,i)=>Math.round(c+(b[i]-c)*t)).join(",")+")";
}
(function(){
  const g=group("benchmark-heatmap");
  named(mk("rect",{x:339,y:3093,width:1365,height:1075,fill:"#bdbdbd"},g),"heatmap-background");
  const colX=i=>439+i*193.9,rowY=i=>3138+i*82.25;
  heatRows.forEach((row,r)=>{
    line(316,rowY(r),339,rowY(r),GRID,2.5,"heatmap-row-tick",g);
    line(1704,rowY(r),1718,rowY(r),GRID,2.5,"heatmap-row-tick",g);
    txt(row,307,rowY(r),42.5,"heatmap-row-label-"+row,{anchor:"end",fill:TICK,weight:"bold",parent:g});
    heatCols.forEach((col,c)=>{
      const v=heatValues[r][c];
      const cell=mk("rect",{x:colX(c)-94.5,y:rowY(r)-37.5,width:189,height:75,fill:heatColor(v)},g);
      
      
      txt(String(v),colX(c),rowY(r),42,"heatmap-value",{anchor:"middle",fill:"#111",parent:g});
    });
  });
  heatCols.forEach((col,c)=>{
    const t=named(mk("text",{x:colX(c)+20,y:4215,"font-size":43,"font-weight":"bold","text-anchor":"end",fill:TICK,transform:"rotate(-45 "+(colX(c)+20)+" 4215)"},g),"heatmap-col-label-"+col);
    t.textContent=col;
  });
  const lg=group("heatmap-legend");
  txt("benchmark",1769,3492,33,"heatmap-legend-title",{parent:lg});
  const defs=mk("defs",{},lg);
  const grad=mk("linearGradient",{id:"heat-grad",x1:0,y1:1,x2:0,y2:0},defs);
  const barLo=.19,barHi=.81;
  for(let i=0;i<=12;i++){
    const v=barLo+(barHi-barLo)*i/12;
    mk("stop",{offset:(i/12).toFixed(3),"stop-color":heatColor(v)},grad);
  }
  named(mk("rect",{x:1770,y:3523,width:51,height:264,fill:"url(#heat-grad)"},lg),"heatmap-colorbar");
  const sy=scale(.2,.8,3782,3527.5);
  heatLegendTicks.forEach(v=>{
    line(1770,sy(v),1780,sy(v),"#fff",2,"heatmap-colorbar-tick",lg);
    line(1811,sy(v),1821,sy(v),"#fff",2,"heatmap-colorbar-tick",lg);
    txt(v.toFixed(1),1838,sy(v),27.5,"heatmap-colorbar-label",{fill:"#222",parent:lg});
  });
})();

/* ---------- panel G ---------- */
panelLetter("G",2022,3010);
(function(){
  const g=group("count-bar-chart");
  const sy=scale(0,300,4209.8,3158.6);
  const barX=[2615,3082],halfW=116.5;
  const box={l:2335,r:3364,t:3031,b:4266};
  countMinorTicks.forEach(v=>line(box.l,sy(v),box.r,sy(v),GRID,2,"count-y-minor-gridline",g));
  countTicks.forEach(v=>line(box.l,sy(v),box.r,sy(v),GRID,3.5,"count-y-major-gridline",g));
  barX.forEach(x=>line(x,box.t,x,box.b,GRID,3,"count-x-gridline",g));
  countTicks.forEach(v=>txt(String(v),2319,sy(v),28,"count-y-tick-label",{anchor:"end",fill:TICK,parent:g}));
  countCategories.forEach((cat,i)=>{
    const m=mortalityCounts[i],n=nonMortalityCounts[i];
    const top=mk("rect",{x:barX[i]-halfW,y:sy(m+n),width:halfW*2,height:sy(m)-sy(m+n),fill:"#6a3472",stroke:"#111","stroke-width":3.5},g);
    
    
    const bot=mk("rect",{x:barX[i]-halfW,y:sy(m),width:halfW*2,height:sy(0)-sy(m),fill:"#98da73",stroke:"#111","stroke-width":3.5},g);
    
    
    txt(String(n),barX[i],sy(m+n/2),33.5,"bar-value-non-mortality-"+cat,{anchor:"middle",fill:"#111",parent:g});
    txt(String(m),barX[i],sy(m/2),33.5,"bar-value-mortality-"+cat,{anchor:"middle",fill:"#111",parent:g});
    txt(cat,barX[i],4291,28,"count-x-tick-label-"+cat,{anchor:"middle",fill:TICK,parent:g});
  });
  txt("Feature",2849,4330,33.5,"count-x-axis-title",{anchor:"middle",parent:g});
  txt("Count",2244,3648,34,"count-y-axis-title",{anchor:"middle",rot:-90,parent:g});
  const lg=group("count-legend");
  txt("Feature",3416,3584,33.5,"count-legend-title",{parent:lg});
  named(mk("rect",{x:3418,y:3621,width:50,height:50,fill:"#6a3472",stroke:"#111","stroke-width":3},lg),"count-legend-key-non-mortality");
  named(mk("rect",{x:3418,y:3675,width:50,height:49,fill:"#98da73",stroke:"#111","stroke-width":3},lg),"count-legend-key-mortality");
  txt("Non-Mortality",3487,3646,28,"count-legend-label-non-mortality",{fill:"#222",parent:lg});
  txt("Mortality",3487,3700,28,"count-legend-label-mortality",{fill:"#222",parent:lg});
})();
</script>
</body>
</html>
